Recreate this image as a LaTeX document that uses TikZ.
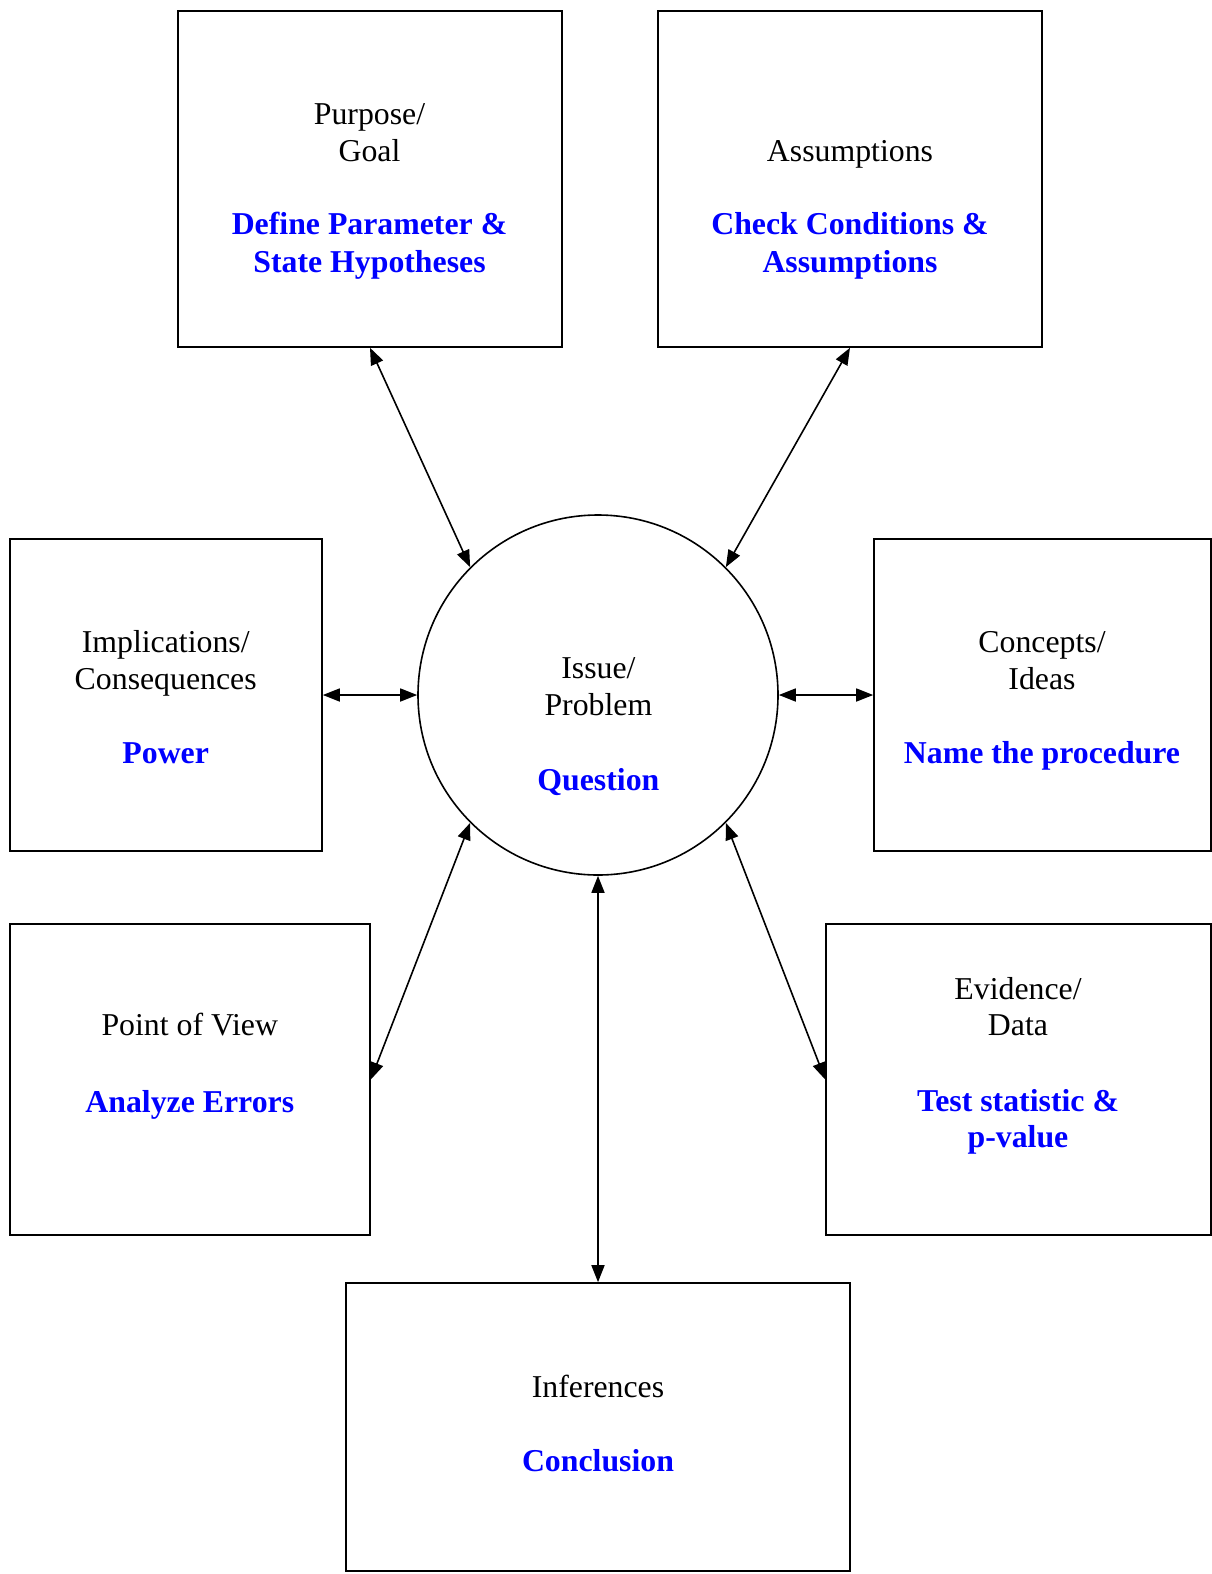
\documentclass[tikz,border=0pt]{standalone}
\usepackage{fontspec}
\setmainfont{Liberation Serif}
\usetikzlibrary{arrows.meta}
\definecolor{hiblue}{RGB}{0,0,255}
\begin{document}
\begin{tikzpicture}[x=1pt,y=-1pt,
  box/.style={draw,line width=1.6pt,inner sep=0pt},
  txt/.style={anchor=base,inner sep=0pt,font=\fontsize{31.8}{37}\selectfont},
  btxt/.style={txt,font=\fontsize{31.8}{37}\selectfont\bfseries,text=hiblue},
  link/.style={line width=1.6pt,{Triangle[length=17pt,width=13pt]}-{Triangle[length=17pt,width=13pt]}}]
\useasboundingbox (0,0) rectangle (1212,1574);
\fill[white] (0,0) rectangle (1212,1574);
% boxes
\node[box,minimum width=384pt,minimum height=336pt] (pg) at (370,179) {};
\node[box,minimum width=384pt,minimum height=336pt] (as) at (850,179) {};
\node[box,minimum width=312pt,minimum height=312pt] (im) at (166,695) {};
\node[box,minimum width=337pt,minimum height=312pt] (co) at (1042.5,695) {};
\node[box,minimum width=360pt,minimum height=311pt] (pv) at (190,1079.5) {};
\node[box,minimum width=385pt,minimum height=311pt] (ev) at (1018.5,1079.5) {};
\node[box,minimum width=504pt,minimum height=288pt] (in) at (598,1427) {};
\node[draw,circle,line width=1.6pt,minimum size=360pt,inner sep=0pt] (c) at (598,695) {};
% texts
\node[txt] (t1) at (369.5,124) {Purpose/};
\node[txt] (t2) at (369.5,161) {Goal};
\node[btxt] (t3) at (369.5,234.5) {Define Parameter \&};
\node[btxt] (t4) at (369.5,272.5) {State Hypotheses};
\node[txt] (t5) at (850,161) {Assumptions};
\node[btxt] (t6) at (850,234.5) {Check Conditions \&};
\node[btxt] (t7) at (850,272.5) {Assumptions};
\node[txt] (t8) at (165.7,652) {Implications/};
\node[txt] (t9) at (165.7,689) {Consequences};
\node[btxt] (t10) at (165.7,763.5) {Power};
\node[txt] (t11) at (598.4,678) {Issue/};
\node[txt] (t12) at (598.4,715) {Problem};
\node[btxt] (t13) at (598.4,790.5) {Question};
\node[txt] (t14) at (1042,652) {Concepts/};
\node[txt] (t15) at (1042,689) {Ideas};
\node[btxt] (t16) at (1042,763.5) {Name the procedure};
\node[txt] (t17) at (189.8,1035.5) {Point of View};
\node[btxt] (t18) at (189.8,1112) {Analyze Errors};
\node[txt] (t19) at (1018,999.5) {Evidence/};
\node[txt] (t20) at (1018,1035.5) {Data};
\node[btxt] (t21) at (1018,1111) {Test statistic \&};
\node[btxt] (t22) at (1018,1147) {p-value};
\node[txt] (t23) at (598,1397) {Inferences};
\node[btxt] (t24) at (598,1471) {Conclusion};
% connectors
\draw[link] (pg.south) -- (c.135);
\draw[link] (as.south) -- (c.45);
\draw[link] (im.east) -- (c.west);
\draw[link] (co.west) -- (c.east);
\draw[link] (pv.east) -- (c.225);
\draw[link] (ev.west) -- (c.315);
\draw[link] (in.north) -- (c.south);
\end{tikzpicture}
\end{document}
